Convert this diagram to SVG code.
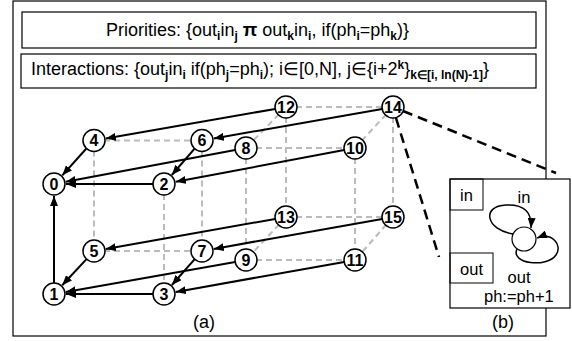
<svg xmlns="http://www.w3.org/2000/svg" width="572" height="341" viewBox="0 0 572 341">
<style>
.t{font-family:"Liberation Sans",Arial,sans-serif;font-size:18px;fill:#000}
.tb{font-family:"Liberation Sans",Arial,sans-serif;font-size:16.5px;fill:#000}
.sb{font-size:12px;font-weight:bold}
.nl{font-family:"Liberation Sans",Arial,sans-serif;font-size:16px;font-weight:bold;text-anchor:middle;fill:#000}
.nc{fill:#fff;stroke:#000;stroke-width:1.5}
.box{fill:#fff;stroke:#000;stroke-width:1.2}
.g{stroke:#bbb;stroke-width:2;stroke-dasharray:6,4;fill:none}
.a{stroke:#000;stroke-width:2;fill:none;marker-end:url(#ah)}
.d{stroke:#000;stroke-width:2.5;stroke-dasharray:10,6;fill:none}
.lp{stroke:#000;stroke-width:1.5;fill:none;marker-end:url(#ah2)}
</style>
<defs>
<marker id="ah" markerUnits="userSpaceOnUse" markerWidth="10" markerHeight="8" refX="10" refY="4" orient="auto"><path d="M0,0 L10,4 L0,8 z" fill="#000"/></marker>
<marker id="ah2" markerUnits="userSpaceOnUse" markerWidth="10" markerHeight="8" refX="10" refY="4" orient="auto"><path d="M0,0 L10,4 L0,8 z" fill="#000"/></marker>
</defs>
<rect x="13" y="1" width="533" height="335" fill="#fff" stroke="#000" stroke-width="1.2"/>
<g id="priorities">
<rect class="box" x="22" y="12" width="514" height="36"/>
<text class="t" x="106" y="36">Priorities: {out<tspan class="sb" dy="4">i</tspan><tspan dy="-4">in</tspan><tspan class="sb" dy="4">j</tspan><tspan dy="-4"> </tspan><tspan font-weight="bold" font-size="19">π</tspan> out<tspan class="sb" dy="4">k</tspan><tspan dy="-4">in</tspan><tspan class="sb" dy="4">i</tspan><tspan dy="-4">, if(ph</tspan><tspan class="sb" dy="4">i</tspan><tspan dy="-4">=ph</tspan><tspan class="sb" dy="4">k</tspan><tspan dy="-4">)}</tspan></text>
</g>
<g id="interactions">
<rect class="box" x="21" y="54" width="515" height="34"/>
<text class="t" x="31" y="75">Interactions: {out<tspan class="sb" dy="4">j</tspan><tspan dy="-4">in</tspan><tspan class="sb" dy="4">i</tspan><tspan dy="-4"> if(ph</tspan><tspan class="sb" dy="4">j</tspan><tspan dy="-4">=ph</tspan><tspan class="sb" dy="4">i</tspan><tspan dy="-4">); i∈[0,N], j∈{i+2</tspan><tspan class="sb" dy="-6">k</tspan><tspan dy="6">}</tspan><tspan class="sb" dy="4">k∈[i, ln(N)-1]</tspan><tspan dy="-4">}</tspan></text>
</g>
<g id="connectors">
<path class="g" d="M94,140.5H202 M94,140.5V251 M202,140.5V251 M164,184V294 M246,148V260 M286,107V217 M355,148V260 M393,107V217 M246,148H355 M286,107H393 M94,251H202 M246,260H355 M286,217H393 M286,107L246,148 M393,107L355,148 M286,217L246,260 M393,217L355,260"/>
<path class="a" d="M275.2,108.9L105.8,138.6"/>
<path class="a" d="M382.2,108.9L213.8,138.5"/>
<path class="a" d="M235.2,150L65.8,181.8"/>
<path class="a" d="M344.2,150L175.8,181.8"/>
<path class="a" d="M86.4,148.5L62.3,175.3"/>
<path class="a" d="M194.8,148.3L171.8,175"/>
<path class="a" d="M153,184L66,184"/>
<path class="a" d="M54,283L54,196"/>
<path class="a" d="M275.2,218.9L105.8,248.9"/>
<path class="a" d="M382.2,218.9L213.8,248.9"/>
<path class="a" d="M235.2,261.9L65.8,291.9"/>
<path class="a" d="M344.2,261.9L175.8,291.9"/>
<path class="a" d="M86.5,259.1L62.2,285.2"/>
<path class="a" d="M194.7,259.2L171.9,285"/>
<path class="a" d="M153,294L66,294"/>
<path class="d" d="M403,111L556,173"/>
<path class="d" d="M396,118L439,257"/>
</g>
<g id="n0"><circle class="nc" cx="54" cy="184" r="11"/><text class="nl" x="54" y="189.5">0</text></g>
<g id="n1"><circle class="nc" cx="54" cy="294" r="11"/><text class="nl" x="54" y="299.5">1</text></g>
<g id="n2"><circle class="nc" cx="164" cy="184" r="11"/><text class="nl" x="164" y="189.5">2</text></g>
<g id="n3"><circle class="nc" cx="164" cy="294" r="11"/><text class="nl" x="164" y="299.5">3</text></g>
<g id="n4"><circle class="nc" cx="94" cy="140.5" r="11"/><text class="nl" x="94" y="146">4</text></g>
<g id="n5"><circle class="nc" cx="94" cy="251" r="11"/><text class="nl" x="94" y="256.5">5</text></g>
<g id="n6"><circle class="nc" cx="202" cy="140.5" r="11"/><text class="nl" x="202" y="146">6</text></g>
<g id="n7"><circle class="nc" cx="202" cy="251" r="11"/><text class="nl" x="202" y="256.5">7</text></g>
<g id="n8"><circle class="nc" cx="246" cy="148" r="11"/><text class="nl" x="246" y="153.5">8</text></g>
<g id="n9"><circle class="nc" cx="246" cy="260" r="11"/><text class="nl" x="246" y="265.5">9</text></g>
<g id="n10"><circle class="nc" cx="355" cy="148" r="11"/><text class="nl" x="355" y="153.5">10</text></g>
<g id="n11"><circle class="nc" cx="355" cy="260" r="11"/><text class="nl" x="355" y="265.5">11</text></g>
<g id="n12"><circle class="nc" cx="286" cy="107" r="11"/><text class="nl" x="286" y="112.5">12</text></g>
<g id="n13"><circle class="nc" cx="286" cy="217" r="11"/><text class="nl" x="286" y="222.5">13</text></g>
<g id="n14"><circle class="nc" cx="393" cy="107" r="11"/><text class="nl" x="393" y="112.5">14</text></g>
<g id="n15"><circle class="nc" cx="393" cy="217" r="11"/><text class="nl" x="393" y="222.5">15</text></g>
<text class="t" x="204" y="328" text-anchor="middle">(a)</text>
<g id="boxb">
<rect class="box" x="450" y="179" width="120" height="129"/>
<rect fill="none" stroke="#000" stroke-width="1" x="450" y="179" width="33" height="31"/>
<text class="tb" x="466.5" y="201" text-anchor="middle">in</text>
<rect fill="none" stroke="#000" stroke-width="1" x="450" y="253" width="43" height="30"/>
<text class="tb" x="471.5" y="275" text-anchor="middle">out</text>
<text class="tb" x="524" y="203" text-anchor="middle">in</text>
<text class="tb" x="519" y="283" text-anchor="middle">out</text>
<text class="tb" x="484" y="302">ph:=ph+1</text>
<circle cx="524" cy="239" r="12" fill="#fff" stroke="#000" stroke-width="1.2"/>
<path class="lp" d="M513,234 C486,230 481,206 506,205 C525,204 532,213 531,228"/>
<path class="lp" d="M517,249 C510,264 547,268 556,255 C563,245 552,232 537,238"/>
</g>
<text class="t" x="503" y="328" text-anchor="middle">(b)</text>
</svg>
